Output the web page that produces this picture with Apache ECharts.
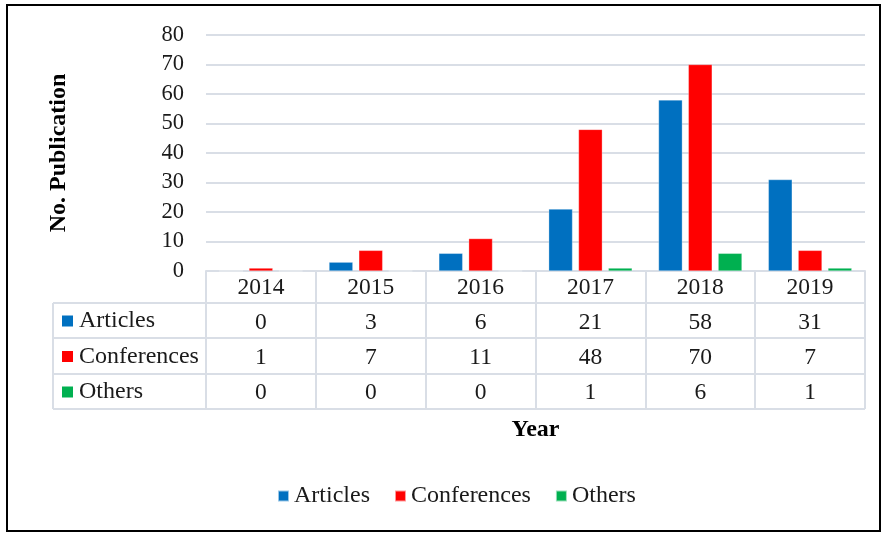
<!DOCTYPE html>
<html>
<head>
<meta charset="utf-8">
<script src="https://cdn.jsdelivr.net/npm/echarts@6/dist/echarts.min.js"></script>
<style>
html,body{margin:0;padding:0;background:#fff;}
#chart{width:885px;height:534px;}
</style>
</head>
<body>
<div id="chart"></div>
<script>
const years = ['2014','2015','2016','2017','2018','2019'];
const articles = [0, 3, 6, 21, 58, 31];
const conferences = [1, 7, 11, 48, 70, 7];
const others = [0, 0, 0, 1, 6, 1];
const seriesNames = ['Articles', 'Conferences', 'Others'];
const colors = ['#0070C0', '#FF0000', '#00B050'];
const yTicks = [0, 10, 20, 30, 40, 50, 60, 70, 80];

const FONT = '"Liberation Serif", "Times New Roman", serif';
const FS = 23.5;
const TXT = '#1a1a1a';
const LINE = '#D9DEE6';
const seriesData = [articles, conferences, others];

const chart = echarts.init(document.getElementById('chart'));

const gridLeft = 206, gridRight = 865, axisY = 271;
const rowLines = [303, 338, 374, 409];
const tableLeft = 53;

const graphics = [];
// outer border
graphics.push({type:'rect', shape:{x:7, y:5, width:873, height:526}, style:{fill:'none', stroke:'#000', lineWidth:2}, z:100});
// horizontal table lines
rowLines.forEach(y => {
  graphics.push({type:'line', shape:{x1:tableLeft, y1:y, x2:gridRight, y2:y}, style:{stroke:LINE, lineWidth:2}});
});
// left column vertical
graphics.push({type:'line', shape:{x1:tableLeft, y1:rowLines[0], x2:tableLeft, y2:rowLines[3]}, style:{stroke:LINE, lineWidth:2}});
// row labels
seriesNames.forEach((n, i) => {
  const yc = (rowLines[i] + rowLines[i+1]) / 2 + 0.5;
  graphics.push({type:'rect', shape:{x:62, y:yc-5.5, width:11, height:11}, style:{fill:colors[i]}});
  graphics.push({type:'text', x:79, y:yc, style:{text:n, font:'24px ' + FONT, fill:TXT, verticalAlign:'middle', align:'left'}});
});

chart.setOption({
  animation: false,
  backgroundColor: '#fff',
  color: colors,
  grid: {left: gridLeft, right: 885 - gridRight, top: 35, bottom: 534 - axisY, containLabel: false},
  legend: {
    data: seriesNames,
    bottom: 21,
    left: 272,
    icon: 'rect',
    itemWidth: 11,
    itemHeight: 11,
    itemGap: 24,
    textStyle: {fontFamily: FONT, fontSize: 24, color: TXT}
  },
  xAxis: {
    type: 'category',
    data: years,
    name: 'Year',
    nameLocation: 'middle',
    nameGap: 147,
    nameTextStyle: {fontFamily: FONT, fontSize: 24, fontWeight: 'bold', color: '#000'},
    axisLine: {show: true, lineStyle: {color: LINE, width: 2}},
    axisTick: {show: true, length: 138, inside: false, lineStyle: {color: LINE, width: 2}},
    axisLabel: {
      margin: -1,
      fontFamily: FONT, fontSize: FS, color: TXT, lineHeight: 35,
      formatter: (v, idx) => [v, articles[idx], conferences[idx], others[idx]].join('\n')
    }
  },
  yAxis: {
    type: 'value',
    min: 0, max: 80, interval: 10,
    name: 'No. Publication',
    nameLocation: 'middle',
    nameGap: 135,
    nameRotate: 90,
    nameTextStyle: {fontFamily: FONT, fontSize: 24, fontWeight: 'bold', color: '#000'},
    axisLine: {show: false},
    axisTick: {show: false},
    axisLabel: {margin: 22, fontFamily: FONT, fontSize: 22.5, color: TXT,
      formatter: v => yTicks.includes(v) ? String(v) : ''},
    splitLine: {lineStyle: {color: LINE, width: 2}}
  },
  series: seriesNames.map((n, i) => ({
    name: n,
    type: 'bar',
    data: seriesData[i],
    barGap: '25%',
    barCategoryGap: '24%',
    itemStyle: {color: colors[i], borderColor: 'rgba(255,255,255,0.6)', borderWidth: 0.5}
  })),
  graphic: graphics
});
</script>
</body>
</html>
